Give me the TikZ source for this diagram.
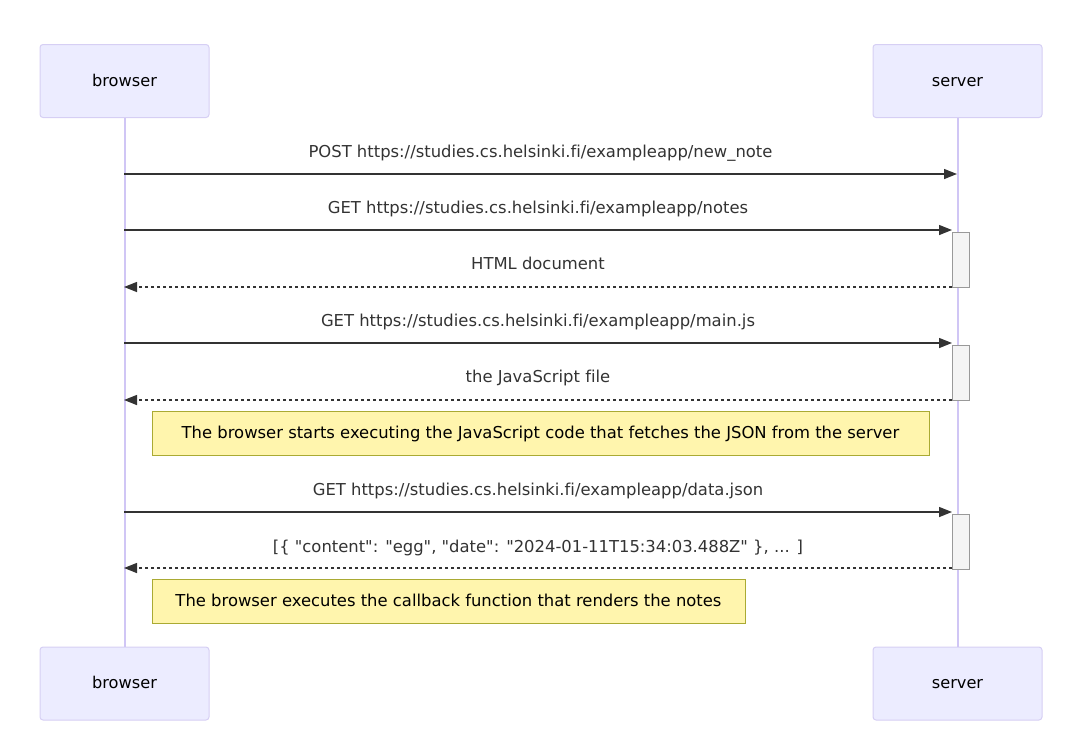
\documentclass[tikz,border=0pt]{standalone}
\usepackage{fontspec}
\setmainfont[Ligatures={TeXOff,NoCommon}]{DejaVu Sans}
\usepackage{tikz}
\usetikzlibrary{arrows.meta}
\usetikzlibrary{positioning}

\definecolor{actorfill}{HTML}{ECECFF}
\definecolor{actorline}{HTML}{D6CFF4}
\definecolor{lifeline}{HTML}{D0C6F5}
\definecolor{msgcol}{HTML}{333333}
\definecolor{notefill}{HTML}{FFF5AD}
\definecolor{noteline}{HTML}{AAAA33}
\definecolor{actfill}{HTML}{F4F4F4}
\definecolor{actline}{HTML}{999999}

\tikzset{
	actor/.style={draw=actorline, fill=actorfill, rounded corners=3pt, line width=1pt,
		minimum width=169pt, minimum height=73pt, font=\fontsize{16.2}{19}\selectfont,
		text height=12pt, text depth=2pt},
	life/.style={draw=lifeline, line width=2pt},
	msg/.style={draw=msgcol, line width=1.4pt, -{Triangle[length=13pt,width=10pt]}},
	reply/.style={msg, dash pattern=on 3pt off 3pt},
	msglabel/.style={font=\fontsize{16.4}{19}\selectfont, text=msgcol, inner sep=0pt,
		text height=11pt, text depth=3pt},
	notebox/.style={draw=noteline, fill=notefill, line width=1pt, inner sep=0pt,
		minimum height=44pt, font=\fontsize{16.4}{19}\selectfont, text height=12pt, text depth=2pt},
	actbox/.style={draw=actline, fill=actfill, line width=1pt, minimum width=17pt,
		minimum height=55pt, inner sep=0pt, anchor=north}
}

\begin{document}
\begin{tikzpicture}[x=1pt,y=-1pt]
		\useasboundingbox (0,0) rectangle (1081,745);

		% actors and lifelines
		\node[actor] (browser) at (124.5,81) {browser};
		\node[actor] (server) at (957.5,81) {server};
		\node[actor] (browserend) at (124.5,683.5) {browser};
		\node[actor] (serverend) at (957.5,683.5) {server};
		\draw[life] (browser.south) -- (browserend.north);
		\draw[life] (server.south) -- (serverend.north);

		% activations
		\node[actbox] (acthtml) at (960.5,232) {};
		\node[actbox] (actjs) at (960.5,345) {};
		\node[actbox] (actjson) at (960.5,514) {};

		% message ends
		\coordinate (b1) at (124,174);   \coordinate (s1) at (957,174);
		\coordinate (b2) at (124,230);   \coordinate (s2) at (952,230);
		\coordinate (b3) at (124,287);   \coordinate (s3) at (952,287);
		\coordinate (b4) at (124,343);   \coordinate (s4) at (952,343);
		\coordinate (b5) at (124,400);   \coordinate (s5) at (952,400);
		\coordinate (b6) at (124,512);   \coordinate (s6) at (952,512);
		\coordinate (b7) at (124,568);   \coordinate (s7) at (952,568);

		% messages
		\draw[msg] (b1) -- node[msglabel, above=13pt] {POST https://studies.cs.helsinki.fi/exampleapp/new\_note} (s1);
		\draw[msg] (b2) -- node[msglabel, above=13pt] {GET https://studies.cs.helsinki.fi/exampleapp/notes} (s2);
		\draw[reply] (s3) -- node[msglabel, above=14pt] {HTML document} (b3);
		\draw[msg] (b4) -- node[msglabel, above=13pt] {GET https://studies.cs.helsinki.fi/exampleapp/main.js} (s4);
		\draw[reply] (s5) -- node[msglabel, above=14pt] {the JavaScript file} (b5);
		\draw[msg] (b6) -- node[msglabel, above=13pt] {GET https://studies.cs.helsinki.fi/exampleapp/data.json} (s6);
		\draw[reply] (s7) -- node[msglabel, above=12pt] {[\{ "content": "egg", "date": "2024-01-11T15:34:03.488Z" \}, ... ]} (b7);

		% notes
		\node[notebox, minimum width=777pt] (execnote) at (540.5,433) {The browser starts executing the JavaScript code that fetches the JSON from the server};
		\node[notebox, minimum width=593pt] (rendernote) at (448.5,601.5) {The browser executes the callback function that renders the notes};
	\end{tikzpicture}
\end{document}
